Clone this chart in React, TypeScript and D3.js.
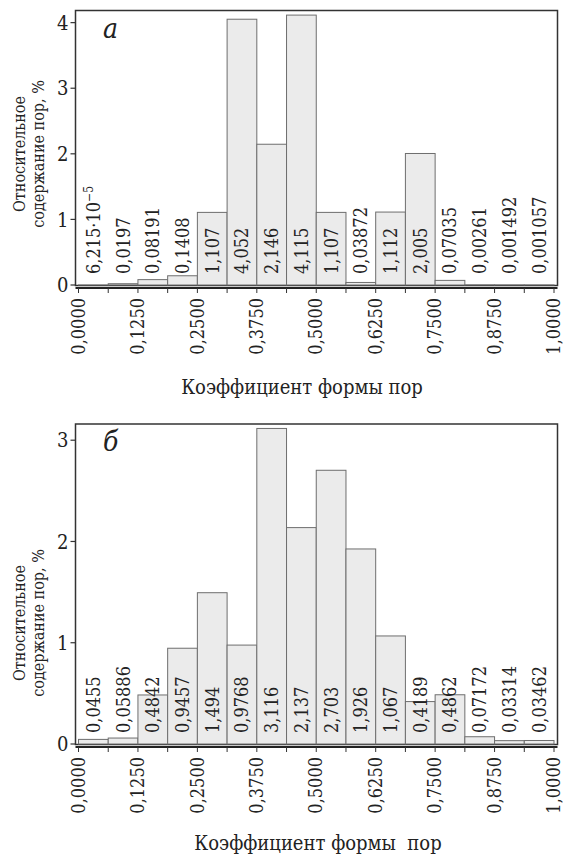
import { useRef, useEffect } from 'react';
import * as d3 from 'd3';

// bins of width 1/16 on [0, 1]
const valuesA = [6.215e-5, 0.0197, 0.08191, 0.1408, 1.107, 4.052, 2.146, 4.115, 1.107, 0.03872, 1.112, 2.005, 0.07035, 0.00261, 0.001492, 0.001057];
const labelsA = ['6,215·10', '0,0197', '0,08191', '0,1408', '1,107', '4,052', '2,146', '4,115', '1,107', '0,03872', '1,112', '2,005', '0,07035', '0,00261', '0,001492', '0,001057'];

const valuesB = [0.0455, 0.05886, 0.4842, 0.9457, 1.494, 0.9768, 3.116, 2.137, 2.703, 1.926, 1.067, 0.4189, 0.4862, 0.07172, 0.03314, 0.03462];
const labelsB = ['0,0455', '0,05886', '0,4842', '0,9457', '1,494', '0,9768', '3,116', '2,137', '2,703', '1,926', '1,067', '0,4189', '0,4862', '0,07172', '0,03314', '0,03462'];

const xTickValues = [0, 0.125, 0.25, 0.375, 0.5, 0.625, 0.75, 0.875, 1];
const xTickLabels = ['0,0000', '0,1250', '0,2500', '0,3750', '0,5000', '0,6250', '0,7500', '0,8750', '1,0000'];
const yTicksA = [0, 1, 2, 3, 4];
const yTicksB = [0, 1, 2, 3];

const FONT = "'DejaVu Serif Condensed', 'DejaVu Serif', serif";
const BIN = 1 / 16;

const drawPanel = (svg, opts) => {
  const { values, labels, yTicks, yMax, top, base, letter, titleX, titleY, ylabelY, xTitle, sup } = opts;
  const left = 75.5;
  const right = 557.5;

  const x = d3.scaleLinear().domain([0, 1]).range([78.5, 554]);
  const y = d3.scaleLinear().domain([0, yMax]).range([base, top]);

  const g = svg.append('g');

  // frame
  g.append('rect')
    .attr('x', left)
    .attr('y', top)
    .attr('width', right - left)
    .attr('height', base - top + 0.5)
    .attr('fill', 'none')
    .attr('stroke', '#333')
    .attr('stroke-width', 1.5);

  // bars
  g.selectAll('.bar')
    .data(values)
    .enter()
    .append('rect')
    .attr('x', (d, i) => x(i * BIN))
    .attr('y', d => y(d))
    .attr('width', x(BIN) - x(0))
    .attr('height', d => base - y(d))
    .attr('fill', '#ebebeb')
    .attr('stroke', '#6e6e6e')
    .attr('stroke-width', 1);

  // value labels
  const vl = g.selectAll('.vlabel')
    .data(labels)
    .enter()
    .append('text')
    .attr('transform', (d, i) => `translate(${x(i * BIN + BIN / 2)},${base - 11}) rotate(-90)`)
    .attr('dy', '0.36em')
    .attr('text-anchor', 'start')
    .style('font-family', FONT)
    .style('font-size', '18px')
    .style('fill', '#222');
  vl.append('tspan').text(d => d);
  if (sup) {
    vl.filter((d, i) => i === 0)
      .append('tspan')
      .attr('dy', '-0.55em')
      .style('font-size', '12px')
      .text(sup);
  }

  // x axis line (double line look)
  g.append('line')
    .attr('x1', left)
    .attr('x2', right)
    .attr('y1', base + 3)
    .attr('y2', base + 3)
    .attr('stroke', '#222')
    .attr('stroke-width', 1.8);

  // x ticks, minor every bin
  g.selectAll('.xtick')
    .data(d3.range(17))
    .enter()
    .append('line')
    .attr('x1', i => x(i * BIN))
    .attr('x2', i => x(i * BIN))
    .attr('y1', base + 3)
    .attr('y2', base + 8)
    .attr('stroke', '#333')
    .attr('stroke-width', 1);

  g.selectAll('.xlabel')
    .data(xTickValues)
    .enter()
    .append('text')
    .attr('transform', d => `translate(${x(d)},${base + 13}) rotate(-90)`)
    .attr('dy', '0.34em')
    .attr('text-anchor', 'end')
    .style('font-family', FONT)
    .style('font-size', '18px')
    .style('fill', '#222')
    .text((d, i) => xTickLabels[i]);

  // y ticks
  g.selectAll('.ytick')
    .data(yTicks)
    .enter()
    .append('line')
    .attr('x1', left - 5)
    .attr('x2', left)
    .attr('y1', d => y(d))
    .attr('y2', d => y(d))
    .attr('stroke', '#333')
    .attr('stroke-width', 1.2);

  g.selectAll('.ylabel')
    .data(yTicks)
    .enter()
    .append('text')
    .attr('x', left - 7)
    .attr('y', d => y(d))
    .attr('dy', '0.36em')
    .attr('text-anchor', 'end')
    .style('font-family', FONT)
    .style('font-size', '20px')
    .style('fill', '#222')
    .text(d => d);

  // y title, two lines
  [['Относительное', 25], ['содержание пор, %', 44]].forEach(([t, bx]) => {
    g.append('text')
      .attr('transform', `translate(${bx},${ylabelY}) rotate(-90)`)
      .attr('text-anchor', 'middle')
      .style('font-family', FONT)
      .style('font-size', '16px')
      .style('fill', '#222')
      .text(t);
  });

  // x title
  g.append('text')
    .attr('x', titleX)
    .attr('y', titleY)
    .attr('text-anchor', 'middle')
    .style('font-family', FONT)
    .style('font-size', '20px')
    .style('fill', '#222')
    .style('white-space', 'pre')
    .text(xTitle);

  // panel letter
  g.append('text')
    .attr('x', 103)
    .attr('y', top + 27)
    .style('font-family', FONT)
    .style('font-size', '28px')
    .style('font-style', 'italic')
    .style('fill', '#222')
    .text(letter);
};

const App = () => {
  const svgRef = useRef(null);

  useEffect(() => {
    const svg = d3.select(svgRef.current);
    svg.selectAll('*').remove();

    drawPanel(svg, {
      values: valuesA,
      labels: labelsA,
      yTicks: yTicksA,
      yMax: 4.185,
      top: 10.5,
      base: 285,
      letter: 'а',
      titleX: 302,
      titleY: 394,
      ylabelY: 154,
      xTitle: 'Коэффициент формы пор',
      sup: '−5',
    });

    drawPanel(svg, {
      values: valuesB,
      labels: labelsB,
      yTicks: yTicksB,
      yMax: 3.16,
      top: 424,
      base: 744,
      letter: 'б',
      titleX: 318,
      titleY: 850,
      ylabelY: 623,
      xTitle: 'Коэффициент формы  пор',
    });
  }, []);

  return (
    <svg
      ref={svgRef}
      width="563"
      height="856"
      style={{ position: 'absolute', left: 0, top: 0, background: '#fff' }}
    ></svg>
  );
};

export default App;
